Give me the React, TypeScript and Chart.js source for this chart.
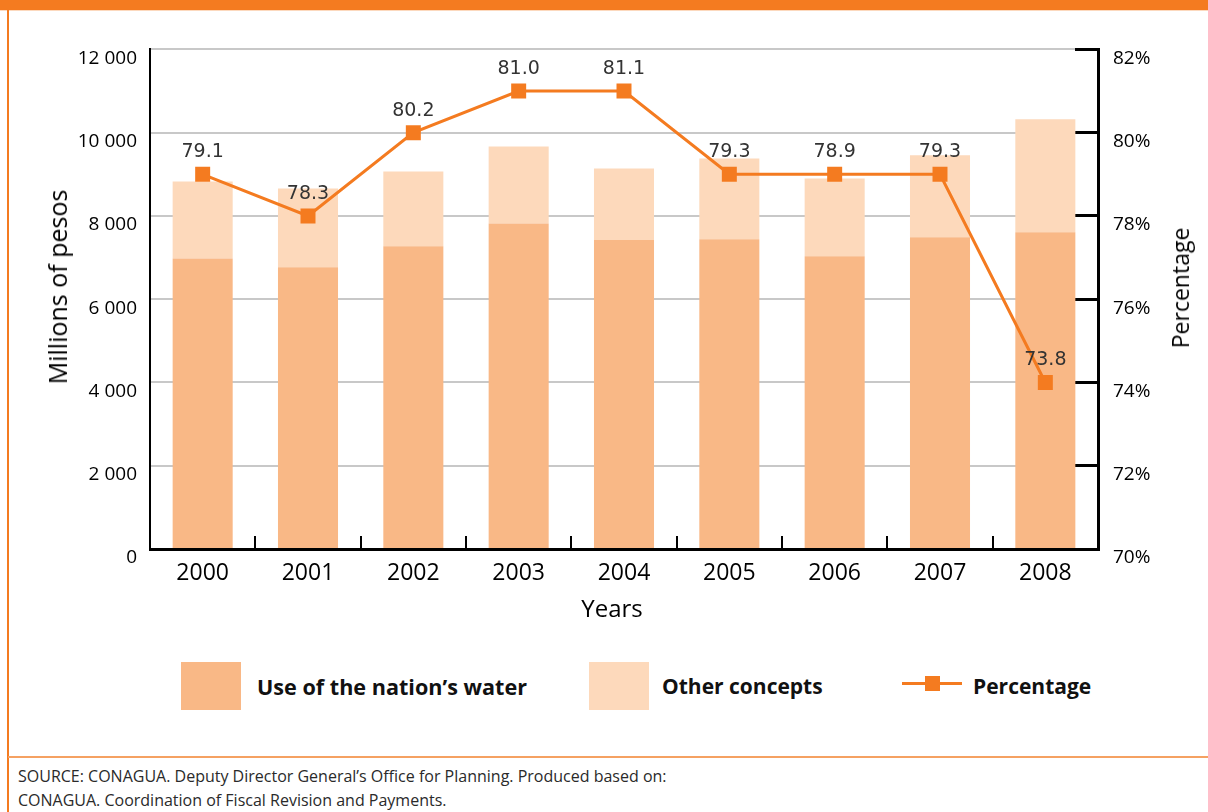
import React, { useEffect, useRef } from 'react';
import { Chart, registerables } from 'chart.js';

Chart.register(...registerables);

const years = ['2000', '2001', '2002', '2003', '2004', '2005', '2006', '2007', '2008'];
const waterUse = [6980, 6770, 7270, 7820, 7420, 7440, 7030, 7490, 7610];
const otherConcepts = [1850, 1890, 1800, 1850, 1720, 1940, 1870, 1970, 2710];
const percentPlotted = [79, 78, 80, 81, 81, 79, 79, 79, 74];
const percentLabels = ['79.1', '78.3', '80.2', '81.0', '81.1', '79.3', '78.9', '79.3', '73.8'];
const leftTickLabels = ['0', '2 000', '4 000', '6 000', '8 000', '10 000', '12 000'];
const rightTickLabels = ['70%', '72%', '74%', '76%', '78%', '80%', '82%'];

const ORANGE = '#F47B20';
const DARK_BAR = '#F9B886';
const LIGHT_BAR = '#FDD9BB';
const FONT = '"Open Sans", "Noto Sans", sans-serif';

export default function App() {
  const ref = useRef<HTMLCanvasElement>(null);

  useEffect(() => {
    document.body.style.margin = '0';
    const canvas = ref.current!;
    const labelPlugin = {
      id: 'pctLabels',
      afterDatasetsDraw(chart: any) {
        const meta = chart.getDatasetMeta(2);
        const c = chart.ctx;
        c.save();
        c.font = '19px "DejaVu Sans", sans-serif';
        c.fillStyle = '#333333';
        c.textAlign = 'center';
        c.textBaseline = 'middle';
        meta.data.forEach((pt: any, i: number) => {
          c.fillText(percentLabels[i], pt.x, pt.y - 22);
        });
        c.restore();
      },
    };

    const chart = new Chart(canvas, {
      type: 'bar',
      data: {
        labels: years,
        datasets: [
          {
            type: 'bar',
            label: 'Use of the nation’s water',
            data: waterUse,
            backgroundColor: DARK_BAR,
            stack: 's',
            yAxisID: 'y',
            order: 1,
            categoryPercentage: 1,
            barPercentage: 0.57,
          },
          {
            type: 'bar',
            label: 'Other concepts',
            data: otherConcepts,
            backgroundColor: LIGHT_BAR,
            stack: 's',
            yAxisID: 'y',
            order: 1,
            categoryPercentage: 1,
            barPercentage: 0.57,
          },
          {
            type: 'line',
            label: 'Percentage',
            data: percentPlotted,
            yAxisID: 'y1',
            borderColor: ORANGE,
            borderWidth: 3,
            pointStyle: 'rect',
            pointRadius: 10.6,
            pointBackgroundColor: ORANGE,
            pointBorderColor: ORANGE,
            pointBorderWidth: 0,
            tension: 0,
            order: 0,
          } as any,
        ],
      },
      options: {
        responsive: false,
        animation: false,
        devicePixelRatio: 1,
        layout: { padding: { top: 48, left: 0, right: 0, bottom: 0 } },
        plugins: {
          legend: { display: false },
          tooltip: { enabled: false },
          title: { display: false },
        },
        scales: {
          x: {
            stacked: true,
            grid: {
              offset: true,
              drawOnChartArea: false,
              drawTicks: true,
              tickLength: -13,
              color: '#000000',
              lineWidth: 2,
            },
            border: { color: '#000000', width: 3 },
            ticks: {
              color: '#000000',
              font: { family: FONT, size: 23, weight: '500' },
              padding: 24,
            },
            afterFit: (s: any) => {
              s.height = 91;
            },
          },
          y: {
            stacked: true,
            position: 'left',
            min: 0,
            max: 12000,
            ticks: {
              stepSize: 2000,
              color: '#000000',
              font: { family: FONT, size: 19 },
              padding: 13,
              labelOffset: 9,
              callback: (_v: any, i: number) => leftTickLabels[i],
            },
            grid: { color: '#C8C8C8', lineWidth: 2, drawTicks: false },
            border: { color: '#000000', width: 2 },
            afterFit: (s: any) => {
              s.width = 150;
            },
          },
          y1: {
            position: 'right',
            min: 70,
            max: 82,
            ticks: {
              stepSize: 2,
              color: '#000000',
              font: { family: FONT, size: 19 },
              padding: 38,
              labelOffset: 9,
              callback: (_v: any, i: number) => rightTickLabels[i],
            },
            grid: {
              drawOnChartArea: false,
              drawTicks: true,
              tickLength: -23,
              color: '#000000',
              lineWidth: 3,
            },
            border: { color: '#000000', width: 3 },
            afterFit: (s: any) => {
              s.width = 110;
            },
          },
        },
      } as any,
      plugins: [labelPlugin],
    });
    return () => chart.destroy();
  }, []);

  const abs = (style: React.CSSProperties): React.CSSProperties => ({ position: 'absolute', ...style });

  return (
    <div style={abs({ left: 0, top: 0, width: 1208, height: 812, background: '#ffffff', overflow: 'hidden', fontFamily: FONT })}>
      <div style={abs({ left: 0, top: 0, width: 1208, height: 10, background: ORANGE })} />
      <div style={abs({ left: 0, top: 10, width: 1208, height: 1, background: '#FCD9BE' })} />
      <div style={abs({ left: 7, top: 10, width: 2, height: 802, background: ORANGE })} />
      <div style={abs({ left: 8, top: 756, width: 1200, height: 2, background: '#F5A162' })} />
      <canvas ref={ref} width={1208} height={640} style={abs({ left: 0, top: 0, width: 1208, height: 640 })} />
      <div
        style={abs({
          left: 57,
          top: 287,
          transform: 'translate(-50%, -50%) rotate(-90deg)',
          whiteSpace: 'nowrap',
          fontSize: 25,
          color: '#000',
        })}
      >
        Millions of pesos
      </div>
      <div
        style={abs({
          left: 1180,
          top: 288,
          transform: 'translate(-50%, -50%) rotate(-90deg)',
          whiteSpace: 'nowrap',
          fontSize: 23,
          color: '#000',
        })}
      >
        Percentage
      </div>
      <div style={abs({ left: 612, top: 607, transform: 'translate(-50%, -50%)', whiteSpace: 'nowrap', fontSize: 24, color: '#000' })}>
        Years
      </div>
      <div style={abs({ left: 181, top: 662, width: 60, height: 48, background: DARK_BAR })} />
      <div style={abs({ left: 257, top: 686, transform: 'translateY(-50%)', whiteSpace: 'nowrap', fontSize: 21.6, fontWeight: 700, color: '#111' })}>
        Use of the nation’s water
      </div>
      <div style={abs({ left: 589, top: 662, width: 60, height: 48, background: LIGHT_BAR })} />
      <div style={abs({ left: 662, top: 686, transform: 'translateY(-50%)', whiteSpace: 'nowrap', fontSize: 21, fontWeight: 700, color: '#111' })}>
        Other concepts
      </div>
      <div style={abs({ left: 902, top: 682, width: 60, height: 3, background: ORANGE })} />
      <div style={abs({ left: 925, top: 676, width: 15, height: 15, background: ORANGE })} />
      <div style={abs({ left: 973, top: 686, transform: 'translateY(-50%)', whiteSpace: 'nowrap', fontSize: 21, fontWeight: 700, color: '#111' })}>
        Percentage
      </div>
      <div style={abs({ left: 18, top: 764, fontSize: 16, lineHeight: '24px', color: '#2a2a2a', whiteSpace: 'nowrap' })}>
        SOURCE: CONAGUA. Deputy Director General’s Office for Planning. Produced based on:
        <br />
        CONAGUA. Coordination of Fiscal Revision and Payments.
      </div>
    </div>
  );
}
